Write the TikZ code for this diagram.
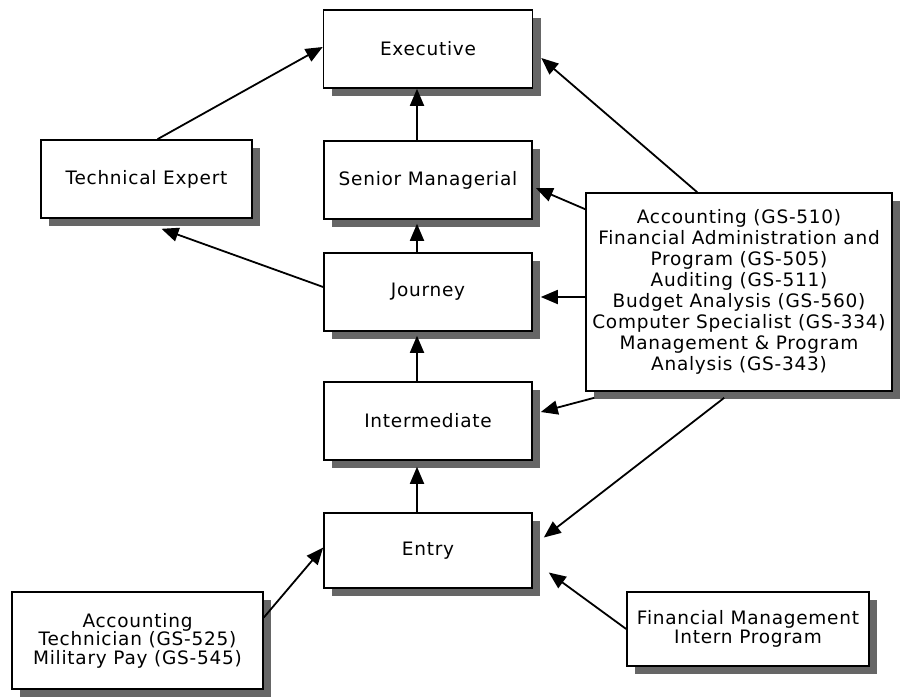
\documentclass[tikz,border=0pt]{standalone}
\usepackage{fontspec}
\setmainfont[LetterSpace=4]{DejaVu Sans}
\usetikzlibrary{arrows.meta,shadows,calc}
\begin{document}
\begin{tikzpicture}[x=1pt,y=-1pt,
  box/.style={draw=black, line width=1.6pt, fill=white, rectangle, align=center,
    inner sep=0pt, font=\fontsize{18.5}{21}\selectfont,
    drop shadow={shadow xshift=8pt, shadow yshift=-8pt, fill=black!60, opacity=1}},
  tight/.style={font=\fontsize{18.5}{18.5}\selectfont},
  conn/.style={line width=1.8pt, -{Triangle[length=17pt,width=14pt]}}]
\useasboundingbox (0,0) rectangle (901,696);
\node[box, minimum width=209pt, minimum height=78pt] (exec) at (428,49) {Executive};
\node[box, minimum width=211pt, minimum height=78pt] (tech) at (146.5,179) {Technical Expert};
\node[box, minimum width=208pt, minimum height=78pt] (sen) at (428,180) {Senior Managerial};
\node[box, minimum width=208pt, minimum height=78pt] (jour) at (428,292) {Journey};
\node[box, minimum width=208pt, minimum height=78pt] (inter) at (428,421) {Intermediate};
\node[box, minimum width=208pt, minimum height=75pt] (entry) at (428,550.5) {Entry};
\node[box, minimum width=306pt, minimum height=198pt] (occ) at (739,292)
  {Accounting (GS-510)\\Financial Administration and\\Program (GS-505)\\Auditing (GS-511)\\Budget Analysis (GS-560)\\Computer Specialist (GS-334)\\Management \& Program\\Analysis (GS-343)};
\node[box, tight, minimum width=251pt, minimum height=97pt] (tech2) at (137.5,640.5)
  {Accounting\\Technician (GS-525)\\Military Pay (GS-545)};
\node[box, tight, minimum width=242pt, minimum height=74pt] (fmip) at (748,629)
  {Financial Management\\Intern Program};
% vertical chain
\draw[conn] ([xshift=-11pt]sen.north) -- ([xshift=-11pt]exec.south);
\draw[conn] ([xshift=-11pt]jour.north) -- ([xshift=-11pt,yshift=-4pt]sen.south);
\draw[conn] ([xshift=-11pt]inter.north) -- ([xshift=-11pt,yshift=-4pt]jour.south);
\draw[conn] ([xshift=-11pt]entry.north) -- ([xshift=-11pt,yshift=-6pt]inter.south);
% technical expert
\draw[conn] ([xshift=11pt]tech.north) -- ([yshift=2pt]exec.west);
\draw[conn] ([yshift=5pt]jour.west) -- ([xshift=15pt,yshift=-10pt]tech.south);
% from occupations box
\draw[conn] ([xshift=112pt]occ.north west) -- ([xshift=8pt,yshift=-9pt]exec.east);
\draw[conn] ([yshift=-17pt]occ.north west) -- ([xshift=3pt,yshift=-8pt]sen.east);
\draw[conn] ([yshift=-5pt]occ.west) -- ([xshift=8pt,yshift=-5pt]jour.east);
\draw[conn] ([xshift=9pt,yshift=-6pt]occ.south west) -- ([xshift=8pt,yshift=9pt]inter.east);
\draw[conn] ([xshift=139pt,yshift=-6pt]occ.south west) -- ([xshift=11pt,yshift=13pt]entry.east);
% bottom boxes
\draw[conn] ([yshift=23pt]tech2.east) -- ([yshift=3pt]entry.west);
\draw[conn] (fmip.west) -- ([xshift=16pt,yshift=-22pt]entry.east);
\end{tikzpicture}
\end{document}
